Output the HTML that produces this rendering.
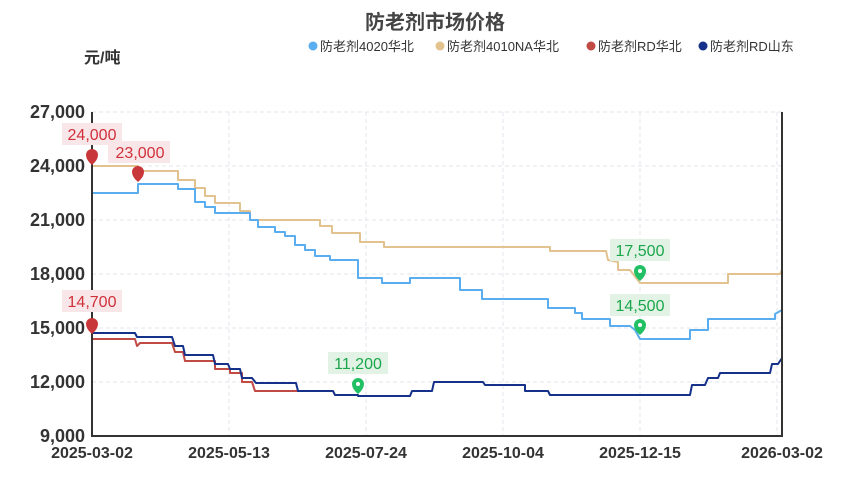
<!DOCTYPE html>
<html><head><meta charset="utf-8"><style>
body{margin:0;background:#fff}
svg{display:block;font-family:"Liberation Sans","Noto Sans CJK SC",sans-serif}
</style></head><body>
<svg width="858" height="480" viewBox="0 0 858 480">
<text x="435" y="29" text-anchor="middle" font-size="20" font-weight="bold" fill="#444">防老剂市场价格</text>
<text x="84" y="63" font-size="16" font-weight="bold" fill="#333">元/吨</text>
<g font-size="13" fill="#333">
<circle cx="313" cy="46" r="4.5" fill="#5aaef0"/><text x="320" y="51">防老剂4020华北</text>
<circle cx="440" cy="46" r="4.5" fill="#e2c28e"/><text x="447" y="51">防老剂4010NA华北</text>
<circle cx="591" cy="46" r="4.5" fill="#c24a45"/><text x="598" y="51">防老剂RD华北</text>
<circle cx="703" cy="46" r="4.5" fill="#16318a"/><text x="710" y="51">防老剂RD山东</text>
</g>
<g stroke="#e3e5ee" stroke-dasharray="4,3" stroke-width="1">
<line x1="92" y1="112" x2="782" y2="112"/><line x1="92" y1="166" x2="782" y2="166"/><line x1="92" y1="220" x2="782" y2="220"/><line x1="92" y1="274" x2="782" y2="274"/><line x1="92" y1="328" x2="782" y2="328"/><line x1="92" y1="382" x2="782" y2="382"/>
<line x1="229" y1="112" x2="229" y2="436"/><line x1="366" y1="112" x2="366" y2="436"/><line x1="503" y1="112" x2="503" y2="436"/><line x1="640" y1="112" x2="640" y2="436"/><line x1="777" y1="112" x2="777" y2="436"/>
</g>
<g font-size="18" font-weight="bold" fill="#333" text-anchor="end">
<text x="85" y="118">27,000</text><text x="85" y="172">24,000</text><text x="85" y="226">21,000</text><text x="85" y="280">18,000</text><text x="85" y="334">15,000</text><text x="85" y="388">12,000</text><text x="85" y="442">9,000</text>
</g>
<g font-size="16" font-weight="bold" fill="#333" text-anchor="middle">
<text x="92" y="458">2025-03-02</text><text x="229" y="458">2025-05-13</text><text x="366" y="458">2025-07-24</text><text x="503" y="458">2025-10-04</text><text x="640" y="458">2025-12-15</text><text x="782" y="458">2026-03-02</text>
</g>
<g fill="none" stroke-width="2" stroke-linejoin="round">
<polyline stroke="#e2c28e" points="92,166 138,166 138,171 178,171 178,180 195,180 195,188 205,188 205,196 215,196 215,203 240,203 240,211 250,211 250,220 320,220 320,226 332,226 332,233 360,233 360,242 384,242 384,247 550,247 550,251 606,251 608,260 618,262 618,270 630,270 640,283 728,283 728,274 780,274 782,270"/>
<polyline stroke="#5aaef0" points="92,193 138,193 138,184 178,184 178,189 195,189 195,202 205,202 205,207 215,207 215,213 250,213 250,220 258,220 258,227 275,227 275,232 285,232 285,236 295,236 295,245 305,245 305,250 315,250 315,256 330,256 330,260 358,260 358,278 382,278 382,283 410,283 410,278 460,278 460,290 482,290 482,299 548,299 548,308 575,308 575,313 582,313 582,319 610,319 610,326 630,326 635,330 640,339 690,339 690,330 708,330 708,319 775,319 775,314 782,310"/>
<polyline stroke="#c24a45" points="92,339 135,339 137,346 140,343 172,343 175,352 183,352 185,361 215,361 215,369 230,369 230,373 242,373 242,382 252,382 255,391 298,391"/>
<polyline stroke="#16318a" points="92,333 135,333 137,337 172,337 175,346 183,346 185,355 213,355 215,364 228,364 230,369 240,369 242,378 252,378 256,383 296,383 298,391 333,391 335,395 358,395 358,396 410,396 412,391 432,391 434,382 483,382 485,385 525,385 525,391 548,391 550,395 690,395 692,385 705,385 708,378 718,378 720,373 770,373 772,364 778,364 782,358"/>
</g>
<polyline fill="none" stroke="#333" stroke-width="2" points="92,112 92,436 782,436 782,112"/>
<g font-size="16" text-anchor="middle">
<rect x="62" y="123" width="60" height="22" fill="#f8e6e8"/><text x="92" y="140" fill="#d0303a">24,000</text>
<rect x="108" y="141" width="62" height="22" fill="#f8e6e8"/><text x="140" y="158" fill="#d0303a">23,000</text>
<rect x="62" y="290" width="60" height="22" fill="#f8e6e8"/><text x="92" y="307" fill="#d0303a">14,700</text>
<rect x="328" y="352" width="60" height="22" fill="#e2f3e6"/><text x="358" y="369" fill="#1aa64a">11,200</text>
<rect x="610" y="239" width="60" height="22" fill="#e2f3e6"/><text x="640" y="256" fill="#1aa64a">17,500</text>
<rect x="610" y="294" width="60" height="22" fill="#e2f3e6"/><text x="640" y="311" fill="#1aa64a">14,500</text>
</g>
<g>
<path d="M86,155 a6,6 0 1 1 12,0 q0,5 -6,10 q-6,-5 -6,-10z" fill="#c8383a"/>
<path d="M132,172 a6,6 0 1 1 12,0 q0,5 -6,10 q-6,-5 -6,-10z" fill="#c8383a"/>
<path d="M86,324 a6,6 0 1 1 12,0 q0,5 -6,10 q-6,-5 -6,-10z" fill="#c8383a"/>
<path d="M352,384 a6,6 0 1 1 12,0 q0,5 -6,10 q-6,-5 -6,-10z" fill="#22c064"/>
<path d="M634,271 a6,6 0 1 1 12,0 q0,5 -6,10 q-6,-5 -6,-10z" fill="#22c064"/>
<path d="M634,325 a6,6 0 1 1 12,0 q0,5 -6,10 q-6,-5 -6,-10z" fill="#22c064"/>
<circle cx="358" cy="384" r="2" fill="#fff"/><circle cx="640" cy="271" r="2" fill="#fff"/><circle cx="640" cy="325" r="2" fill="#fff"/>
</g>
</svg>
</body></html>
